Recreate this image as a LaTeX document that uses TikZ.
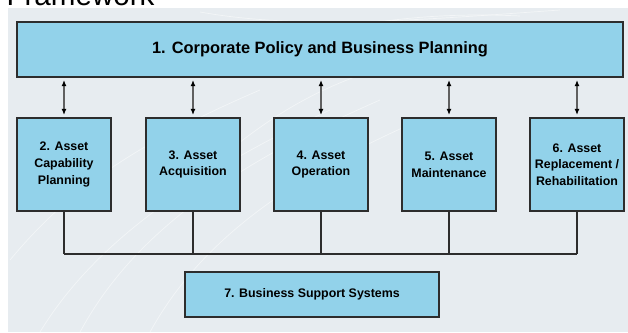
\documentclass[tikz,border=0pt]{standalone}
\usepackage{fontspec}
\setmainfont{Liberation Sans}
\usetikzlibrary{arrows.meta}

\definecolor{boxblue}{RGB}{146,210,234}
\definecolor{backgray}{RGB}{231,236,240}
\definecolor{edgegray}{RGB}{45,45,45}

\begin{document}
\begin{tikzpicture}[x=1pt,y=-1pt,
    box/.style={draw=edgegray, line width=1.2pt, fill=boxblue, align=center,
      inner sep=0pt, font=\bfseries\fontsize{12.4}{16.7}\selectfont},
    link/.style={line width=1.1pt, draw=gray!75!black,
      {Latex[length=6pt,width=5pt,black]}-{Latex[length=6pt,width=5pt,black]},
      shorten <=2.5pt, shorten >=2.5pt},
    bus/.style={line width=1.1pt, draw=edgegray},
    swirl/.style={white, line width=0.7pt, opacity=0.5}]

  \useasboundingbox (0,0) rectangle (628,332);
  \fill[backgray] (8,8) rectangle (628,332);

  % faint streaks in the backdrop
  \draw[swirl] (40,332) .. controls (90,250) and (180,180) .. (330,110);
  \draw[swirl] (80,332) .. controls (130,240) and (220,170) .. (380,100);
  \draw[swirl] (150,332) .. controls (190,260) and (260,190) .. (420,120);
  \draw[swirl] (10,260) .. controls (60,200) and (120,150) .. (260,90);
  \draw[swirl] (200,12) .. controls (300,30) and (420,20) .. (560,10);
  \draw[swirl] (300,40) .. controls (360,20) and (440,12) .. (520,16);
  \draw[swirl] (230,150) .. controls (280,110) and (330,80) .. (410,60);

  \node[anchor=base west, font=\fontsize{29.6}{30}\selectfont] (title) at (3,5.5) {Framework};

  \node[box, minimum width=606pt, minimum height=55pt,
    font=\bfseries\fontsize{16.4}{20}\selectfont] (policy) at (320,49.5)
    {1. Corporate Policy and Business Planning};

  \foreach \n/\x/\txt in {2/64/{2. Asset\\Capability\\Planning},
                          3/193/{3. Asset\\Acquisition},
                          4/321/{4. Asset\\Operation},
                          5/449/{5. Asset\\Maintenance},
                          6/577/{6. Asset\\Replacement /\\Rehabilitation}}
  {
    \node[box, minimum width=94pt, minimum height=93pt] (b\n) at (\x,164.5) {\txt};
    \draw[link] (b\n.north |- policy.south) -- (b\n.north);
  }

  \node[box, minimum width=254pt, minimum height=45pt] (support) at (312,294.5)
    {7. Business Support Systems};

  % lines joining the five boxes underneath
  \coordinate (bus) at (0,254);
  \foreach \n in {2,...,6}
    \draw[bus] (b\n.south) -- (b\n.south |- bus);
  \draw[bus] (b2.south |- bus) -- (b6.south |- bus);

\end{tikzpicture}
\end{document}
